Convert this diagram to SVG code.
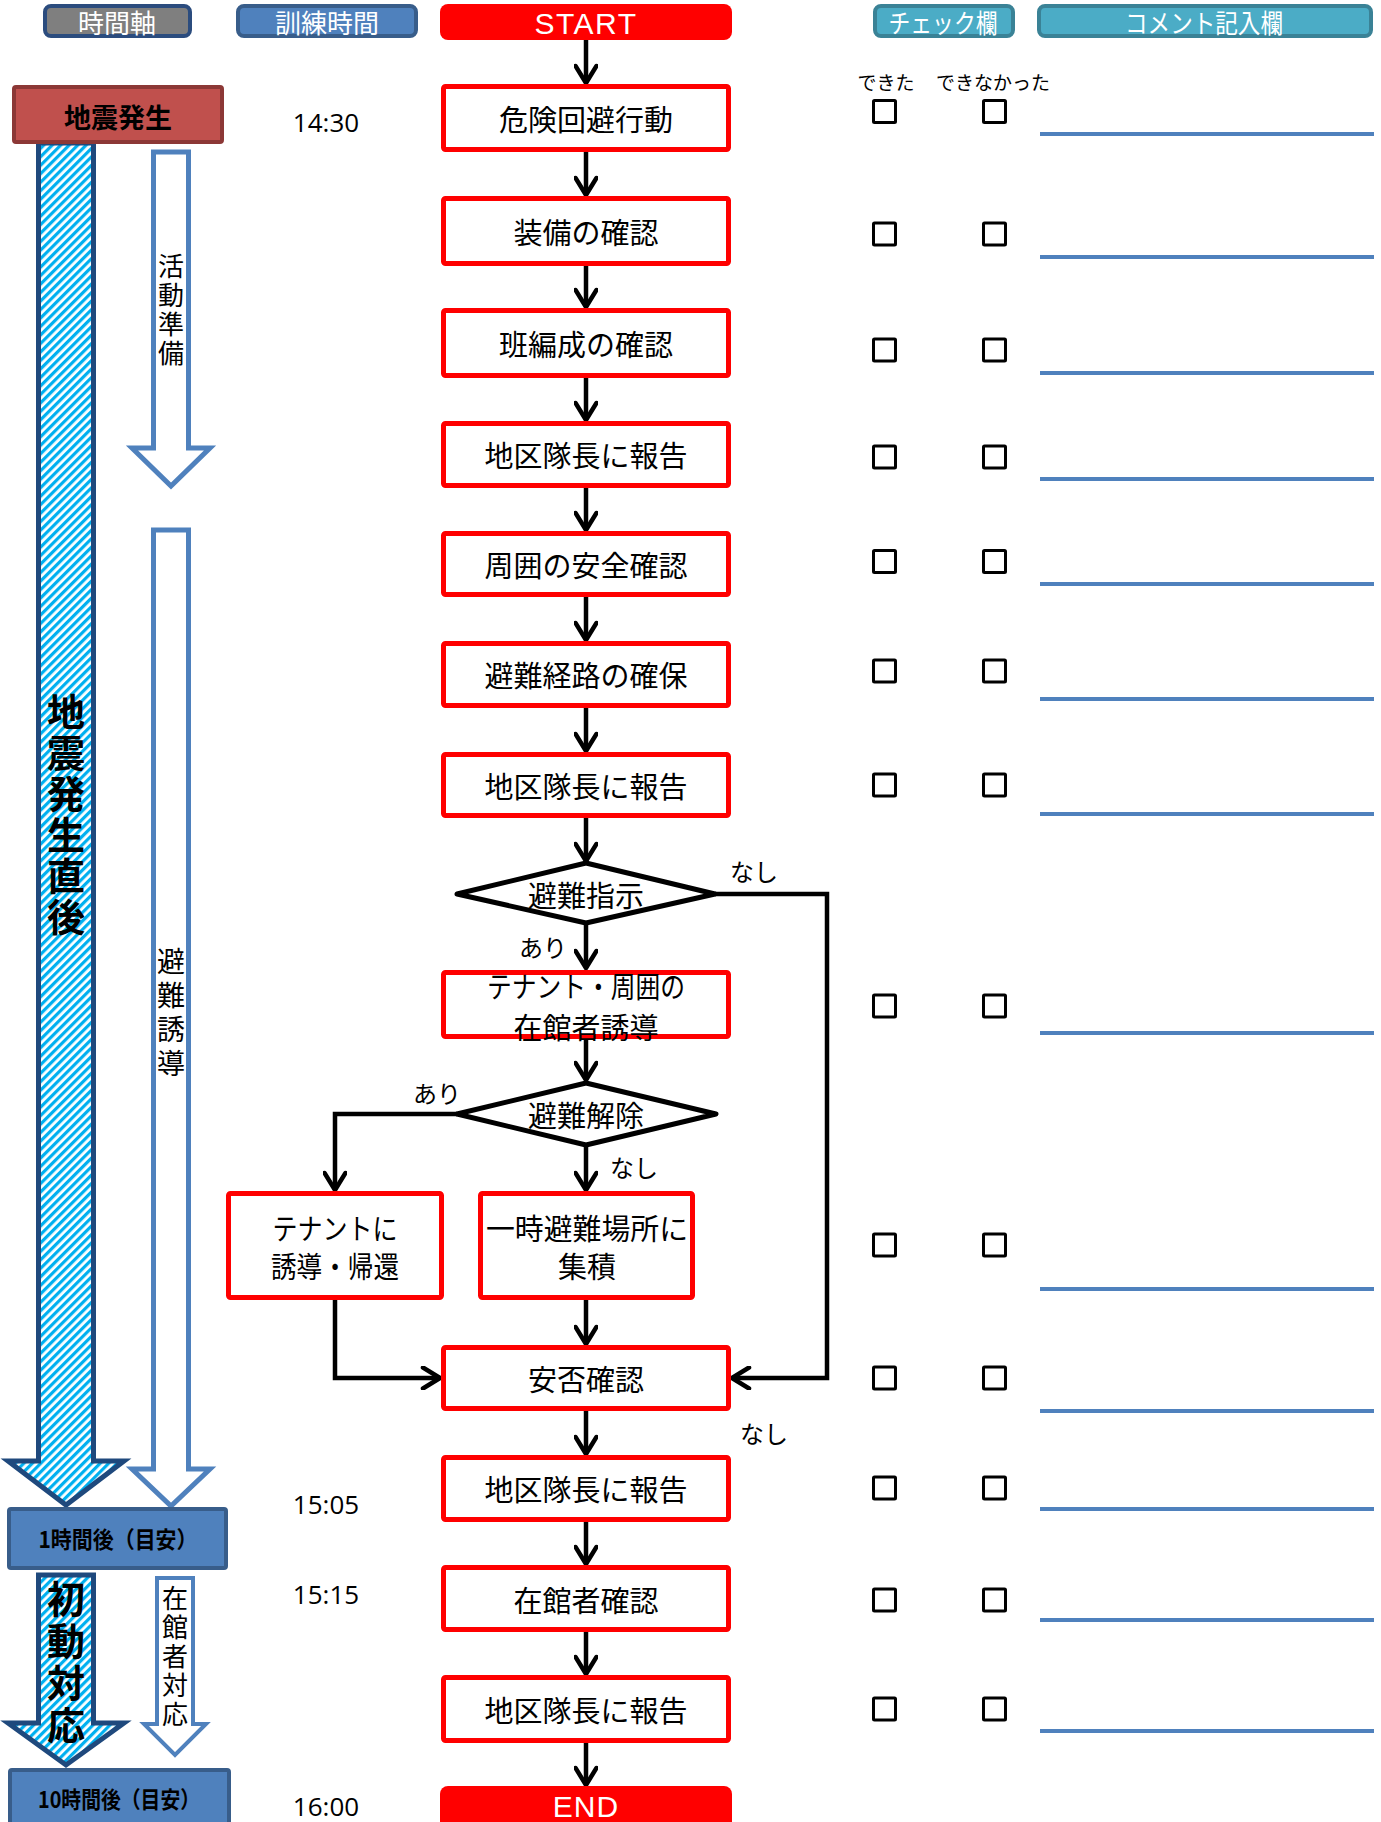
<svg xmlns="http://www.w3.org/2000/svg" width="1381" height="1822" viewBox="0 0 1381 1822">
<defs>
<style>
.jp{font-family:"Noto Sans CJK JP","Noto Sans",sans-serif;fill:#000}
.box{fill:#fff;stroke:#ff0000;stroke-width:5}
.lbl{font-size:29px;text-anchor:middle;dominant-baseline:central}
.small{font-size:24px;text-anchor:middle;dominant-baseline:central}
.hdr{font-size:26px;fill:#fff;text-anchor:middle;dominant-baseline:central}
.con{fill:none;stroke:#000;stroke-width:4.5}
.dia{fill:#fff;stroke:#000;stroke-width:5;stroke-linejoin:round}
.chk{fill:none;stroke:#000;stroke-width:3}
.cline{stroke:#4f81bd;stroke-width:4}
.time{font-family:"Open Sans","Liberation Sans",sans-serif;font-size:26px;fill:#000;text-anchor:middle;dominant-baseline:central}
.vt{writing-mode:vertical-rl;text-anchor:start}
.hatch{fill:url(#hatch);stroke:#1f497d;stroke-width:5;stroke-linejoin:miter}
.outl{fill:#fff;stroke:#4f81bd;stroke-width:5;stroke-linejoin:miter}
</style>
<pattern id="hatch" width="6" height="6" patternUnits="userSpaceOnUse" patternTransform="rotate(45)">
<rect width="6" height="6" fill="#fff"/>
<rect width="3.2" height="6" fill="#00b0f0"/>
</pattern>
<marker id="arr" viewBox="0 0 24 24" refX="21" refY="12" markerWidth="24" markerHeight="24" markerUnits="userSpaceOnUse" orient="auto">
<path d="M4,1.5 L21,12 L4,22.5" fill="none" stroke="#000" stroke-width="4.5" stroke-linejoin="round" stroke-linecap="round"/>
</marker>
</defs>
<rect width="1381" height="1822" fill="#fff"/>

<!-- headers -->
<g id="hdr-time">
<rect x="45" y="6" width="145" height="30" rx="6" fill="#7f7f7f" stroke="#2b4c7e" stroke-width="4"/>
<text class="jp hdr" x="117" y="21">時間軸</text>
</g>
<g id="hdr-train">
<rect x="238" y="6" width="178" height="30" rx="6" fill="#4f81bd" stroke="#385d8a" stroke-width="4"/>
<text class="jp hdr" x="327" y="21" font-size="28">訓練時間</text>
</g>
<g id="start">
<rect x="440" y="4" width="292" height="36" rx="8" fill="#ff0000"/>
<text x="586" y="23" font-family="Liberation Sans, Arial, sans-serif" font-size="30" fill="#fff" text-anchor="middle" dominant-baseline="central" letter-spacing="1.5">START</text>
</g>
<g id="hdr-check">
<rect x="875" y="6" width="138" height="30" rx="6" fill="#4bacc6" stroke="#3a8296" stroke-width="4"/>
<text class="jp hdr" x="943" y="21" textLength="109" lengthAdjust="spacingAndGlyphs">チェック欄</text>
</g>
<g id="hdr-comment">
<rect x="1039" y="6" width="332" height="30" rx="6" fill="#4bacc6" stroke="#3a8296" stroke-width="4"/>
<text class="jp hdr" x="1204" y="21" textLength="158" lengthAdjust="spacingAndGlyphs">コメント記入欄</text>
</g>

<!-- timeline arrows -->
<g id="tl-main">
<path class="hatch" d="M38.5,143 V1461 H8 L66,1505 L124,1461 H93.5 V143 Z"/>
<text class="jp vt" x="66" y="693" font-size="38" font-weight="bold" letter-spacing="3">地震発生直後</text>
</g>
<g id="tl-prep">
<path class="outl" d="M153.5,152 V448 H132 L171,486 L210,448 H188.5 V152 Z"/>
<text class="jp vt" x="171" y="253" font-size="26" letter-spacing="3">活動準備</text>
</g>
<g id="tl-evac">
<path class="outl" d="M153.5,530 V1469 H132 L171,1506 L210,1469 H188.5 V530 Z"/>
<text class="jp vt" x="171" y="947" font-size="28" letter-spacing="6">避難誘導</text>
</g>
<g id="tl-initial">
<path class="hatch" d="M38.5,1575 V1723 H8 L66,1765 L124,1723 H93.5 V1575 Z"/>
<text class="jp vt" x="66" y="1580" font-size="38" font-weight="bold" letter-spacing="4">初動対応</text>
</g>
<g id="tl-occupant">
<path d="M157,1578 V1724 H144 L175,1755 L206,1724 H193 V1578 Z" fill="#fff" stroke="#4f81bd" stroke-width="4"/>
<text class="jp vt" x="175" y="1585" font-size="26" letter-spacing="3">在館者対応</text>
</g>
<g id="tl-quake">
<rect x="14" y="87" width="208" height="55" rx="2" fill="#c0504d" stroke="#8c3836" stroke-width="4"/>
<text class="jp" x="118" y="116" font-size="27" font-weight="bold" text-anchor="middle" dominant-baseline="central">地震発生</text>
</g>
<g id="tl-1h">
<rect x="9" y="1509" width="217" height="59" rx="2" fill="#4f81bd" stroke="#385d8a" stroke-width="4"/>
<text class="jp" x="118" y="1538" font-size="23" font-weight="bold" text-anchor="middle" dominant-baseline="central" textLength="159" lengthAdjust="spacingAndGlyphs">1時間後（目安）</text>
</g>
<g id="tl-10h">
<rect x="10" y="1770" width="219" height="70" rx="2" fill="#4f81bd" stroke="#385d8a" stroke-width="4"/>
<text class="jp" x="119" y="1798" font-size="23" font-weight="bold" text-anchor="middle" dominant-baseline="central" textLength="162" lengthAdjust="spacingAndGlyphs">10時間後（目安）</text>
</g>

<!-- times -->
<g id="times">
<text class="time" x="326" y="122">14:30</text>
<text class="time" x="326" y="1504">15:05</text>
<text class="time" x="326" y="1594">15:15</text>
<text class="time" x="326" y="1806">16:00</text>
</g>

<!-- connectors -->
<g id="connectors">
<path class="con" marker-end="url(#arr)" d="M586,40 V83"/>
<path class="con" marker-end="url(#arr)" d="M586,152 V195"/>
<path class="con" marker-end="url(#arr)" d="M586,266 V307"/>
<path class="con" marker-end="url(#arr)" d="M586,378 V420"/>
<path class="con" marker-end="url(#arr)" d="M586,488 V530"/>
<path class="con" marker-end="url(#arr)" d="M586,597 V640"/>
<path class="con" marker-end="url(#arr)" d="M586,708 V751"/>
<path class="con" marker-end="url(#arr)" d="M586,818 V861"/>
<path class="con" marker-end="url(#arr)" d="M586,923 V968"/>
<path class="con" marker-end="url(#arr)" d="M586,1039 V1080"/>
<path class="con" marker-end="url(#arr)" d="M457,1114 H335 V1190"/>
<path class="con" marker-end="url(#arr)" d="M586,1145 V1190"/>
<path class="con" marker-end="url(#arr)" d="M335,1300 V1378 H440"/>
<path class="con" marker-end="url(#arr)" d="M586,1300 V1344"/>
<path class="con" marker-end="url(#arr)" d="M715,894 H827 V1378 H732"/>
<path class="con" marker-end="url(#arr)" d="M586,1411 V1454"/>
<path class="con" marker-end="url(#arr)" d="M586,1522 V1564"/>
<path class="con" marker-end="url(#arr)" d="M586,1632 V1674"/>
<path class="con" marker-end="url(#arr)" d="M586,1743 V1785"/>
<text class="jp small" x="754" y="870">なし</text>
<text class="jp small" x="543" y="946">あり</text>
<text class="jp small" x="437" y="1092">あり</text>
<text class="jp small" x="634" y="1166">なし</text>
<text class="jp small" x="764" y="1432">なし</text>
</g>

<!-- flow nodes -->
<g id="n1"><rect class="box" x="443.5" y="86.5" width="285" height="63" rx="2"/><text class="jp lbl" x="586" y="118">危険回避行動</text></g>
<g id="n2"><rect class="box" x="443.5" y="198.5" width="285" height="65" rx="2"/><text class="jp lbl" x="586" y="231">装備の確認</text></g>
<g id="n3"><rect class="box" x="443.5" y="310.5" width="285" height="65" rx="2"/><text class="jp lbl" x="586" y="343">班編成の確認</text></g>
<g id="n4"><rect class="box" x="443.5" y="423.5" width="285" height="62" rx="2"/><text class="jp lbl" x="586" y="454">地区隊長に報告</text></g>
<g id="n5"><rect class="box" x="443.5" y="533.5" width="285" height="61" rx="2"/><text class="jp lbl" x="586" y="564">周囲の安全確認</text></g>
<g id="n6"><rect class="box" x="443.5" y="643.5" width="285" height="62" rx="2"/><text class="jp lbl" x="586" y="674">避難経路の確保</text></g>
<g id="n7"><rect class="box" x="443.5" y="754.5" width="285" height="61" rx="2"/><text class="jp lbl" x="586" y="785">地区隊長に報告</text></g>
<g id="d1"><path class="dia" d="M586,863 L715,894 L586,923 L457,894 Z"/><text class="jp lbl" x="586" y="894" font-size="27">避難指示</text></g>
<g id="n8"><rect class="box" x="443.5" y="972.5" width="285" height="64" rx="2"/>
<text class="jp lbl" x="586" y="985" font-size="27" textLength="198" lengthAdjust="spacingAndGlyphs">テナント・周囲の</text>
<text class="jp lbl" x="586" y="1026" font-size="27" textLength="145" lengthAdjust="spacingAndGlyphs">在館者誘導</text></g>
<g id="d2"><path class="dia" d="M586,1083 L716,1114 L586,1145 L457,1114 Z"/><text class="jp lbl" x="586" y="1114" font-size="27">避難解除</text></g>
<g id="n9"><rect class="box" x="228.5" y="1193.5" width="213" height="104" rx="2"/>
<text class="jp lbl" x="335" y="1227" textLength="125" lengthAdjust="spacingAndGlyphs">テナントに</text>
<text class="jp lbl" x="335" y="1265" textLength="128" lengthAdjust="spacingAndGlyphs">誘導・帰還</text></g>
<g id="n10"><rect class="box" x="480.5" y="1193.5" width="212" height="104" rx="2"/>
<text class="jp lbl" x="587" y="1227" textLength="202" lengthAdjust="spacingAndGlyphs">一時避難場所に</text>
<text class="jp lbl" x="587" y="1265">集積</text></g>
<g id="n11"><rect class="box" x="443.5" y="1347.5" width="285" height="61" rx="2"/><text class="jp lbl" x="586" y="1378">安否確認</text></g>
<g id="n12"><rect class="box" x="443.5" y="1457.5" width="285" height="62" rx="2"/><text class="jp lbl" x="586" y="1488">地区隊長に報告</text></g>
<g id="n13"><rect class="box" x="443.5" y="1567.5" width="285" height="62" rx="2"/><text class="jp lbl" x="586" y="1599">在館者確認</text></g>
<g id="n14"><rect class="box" x="443.5" y="1677.5" width="285" height="63" rx="2"/><text class="jp lbl" x="586" y="1709">地区隊長に報告</text></g>
<g id="end"><rect x="440" y="1786" width="292" height="50" rx="8" fill="#ff0000"/>
<text x="586" y="1806" font-family="Liberation Sans, Arial, sans-serif" font-size="30" fill="#fff" text-anchor="middle" dominant-baseline="central" letter-spacing="1">END</text></g>

<!-- check column -->
<g id="checks">
<text class="jp" x="886" y="81" font-size="19" text-anchor="middle" dominant-baseline="central">できた</text>
<text class="jp" x="993" y="81" font-size="19" text-anchor="middle" dominant-baseline="central">できなかった</text>
<rect class="chk" x="873.5" y="100.5" width="22" height="22" rx="1"/><rect class="chk" x="983.5" y="100.5" width="22" height="22" rx="1"/>
<rect class="chk" x="873.5" y="223" width="22" height="22" rx="1"/><rect class="chk" x="983.5" y="223" width="22" height="22" rx="1"/>
<rect class="chk" x="873.5" y="339" width="22" height="22" rx="1"/><rect class="chk" x="983.5" y="339" width="22" height="22" rx="1"/>
<rect class="chk" x="873.5" y="446" width="22" height="22" rx="1"/><rect class="chk" x="983.5" y="446" width="22" height="22" rx="1"/>
<rect class="chk" x="873.5" y="550.5" width="22" height="22" rx="1"/><rect class="chk" x="983.5" y="550.5" width="22" height="22" rx="1"/>
<rect class="chk" x="873.5" y="660" width="22" height="22" rx="1"/><rect class="chk" x="983.5" y="660" width="22" height="22" rx="1"/>
<rect class="chk" x="873.5" y="774" width="22" height="22" rx="1"/><rect class="chk" x="983.5" y="774" width="22" height="22" rx="1"/>
<rect class="chk" x="873.5" y="995" width="22" height="22" rx="1"/><rect class="chk" x="983.5" y="995" width="22" height="22" rx="1"/>
<rect class="chk" x="873.5" y="1234" width="22" height="22" rx="1"/><rect class="chk" x="983.5" y="1234" width="22" height="22" rx="1"/>
<rect class="chk" x="873.5" y="1367" width="22" height="22" rx="1"/><rect class="chk" x="983.5" y="1367" width="22" height="22" rx="1"/>
<rect class="chk" x="873.5" y="1477" width="22" height="22" rx="1"/><rect class="chk" x="983.5" y="1477" width="22" height="22" rx="1"/>
<rect class="chk" x="873.5" y="1589" width="22" height="22" rx="1"/><rect class="chk" x="983.5" y="1589" width="22" height="22" rx="1"/>
<rect class="chk" x="873.5" y="1698" width="22" height="22" rx="1"/><rect class="chk" x="983.5" y="1698" width="22" height="22" rx="1"/>
</g>

<!-- comment lines -->
<g id="comments">
<line class="cline" x1="1040" y1="134" x2="1374" y2="134"/>
<line class="cline" x1="1040" y1="257" x2="1374" y2="257"/>
<line class="cline" x1="1040" y1="373" x2="1374" y2="373"/>
<line class="cline" x1="1040" y1="479" x2="1374" y2="479"/>
<line class="cline" x1="1040" y1="584" x2="1374" y2="584"/>
<line class="cline" x1="1040" y1="699" x2="1374" y2="699"/>
<line class="cline" x1="1040" y1="814" x2="1374" y2="814"/>
<line class="cline" x1="1040" y1="1033" x2="1374" y2="1033"/>
<line class="cline" x1="1040" y1="1289" x2="1374" y2="1289"/>
<line class="cline" x1="1040" y1="1411" x2="1374" y2="1411"/>
<line class="cline" x1="1040" y1="1509" x2="1374" y2="1509"/>
<line class="cline" x1="1040" y1="1620" x2="1374" y2="1620"/>
<line class="cline" x1="1040" y1="1731" x2="1374" y2="1731"/>
</g>
</svg>
